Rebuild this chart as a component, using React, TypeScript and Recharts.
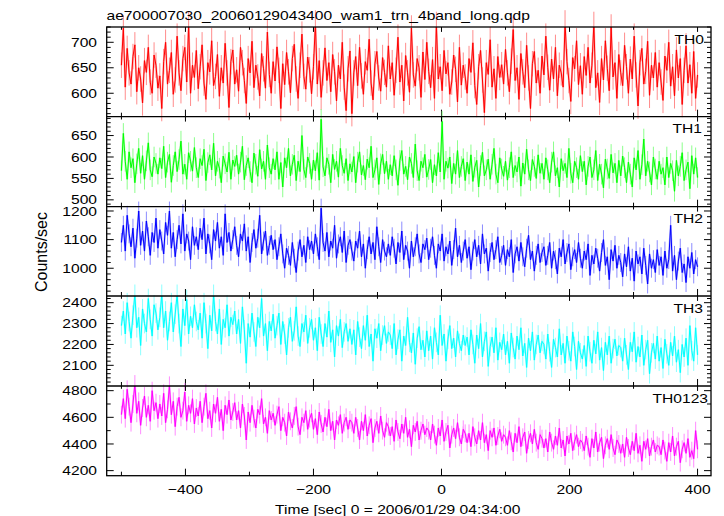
import React from "react";
import { LineChart, Line, XAxis, YAxis, ErrorBar } from "recharts";

const W = 724;
const H = 516;
const PLOT_L = 106.7;
const PLOT_R = 711;
const FONT = "'Liberation Sans', Arial, Helvetica, sans-serif";

// time bins (sec, relative to 2006/01/29 04:34:00)
const times = [
  -500, -497, -494, -491, -488, -485, -482, -479, -476, -473, -470, -467, -464, -461, -458, -455, -452, -449, -446, -443,
  -440, -437, -434, -431, -428, -425, -422, -419, -416, -413, -410, -407, -404, -401, -398, -395, -392, -389, -386, -383,
  -380, -377, -374, -371, -368, -365, -362, -359, -356, -353, -350, -347, -344, -341, -338, -335, -332, -329, -326, -323,
  -320, -317, -314, -311, -308, -305, -302, -299, -296, -293, -290, -287, -284, -281, -278, -275, -272, -269, -266, -263,
  -260, -257, -254, -251, -248, -245, -242, -239, -236, -233, -230, -227, -224, -221, -218, -215, -212, -209, -206, -203,
  -200, -197, -194, -191, -188, -185, -182, -179, -176, -173, -170, -167, -164, -161, -158, -155, -152, -149, -146, -143,
  -140, -137, -134, -131, -128, -125, -122, -119, -116, -113, -110, -107, -104, -101, -98, -95, -92, -89, -86, -83,
  -80, -77, -74, -71, -68, -65, -62, -59, -56, -53, -50, -47, -44, -41, -38, -35, -32, -29, -26, -23,
  -20, -17, -14, -11, -8, -5, -2, 1, 4, 7, 10, 13, 16, 19, 22, 25, 28, 31, 34, 37,
  40, 43, 46, 49, 52, 55, 58, 61, 64, 67, 70, 73, 76, 79, 82, 85, 88, 91, 94, 97,
  100, 103, 106, 109, 112, 115, 118, 121, 124, 127, 130, 133, 136, 139, 142, 145, 148, 151, 154, 157,
  160, 163, 166, 169, 172, 175, 178, 181, 184, 187, 190, 193, 196, 199, 202, 205, 208, 211, 214, 217,
  220, 223, 226, 229, 232, 235, 238, 241, 244, 247, 250, 253, 256, 259, 262, 265, 268, 271, 274, 277,
  280, 283, 286, 289, 292, 295, 298, 301, 304, 307, 310, 313, 316, 319, 322, 325, 328, 331, 334, 337,
  340, 343, 346, 349, 352, 355, 358, 361, 364, 367, 370, 373, 376, 379, 382, 385, 388, 391, 394, 397,
  400,
];

const th0 = [
  655, 728, 612, 688, 640, 618, 672, 695, 603, 650, 628, 581, 664, 641, 690, 622, 600, 675, 655, 610,
  634, 570, 662, 700, 618, 645, 680, 598, 626, 712, 640, 605, 668, 690, 622, 735, 600, 655, 631, 684,
  609, 652, 695, 620, 588, 660, 642, 703, 615, 633, 676, 594, 650, 620, 698, 640, 572, 662, 685, 618,
  646, 604, 690, 660, 625, 580, 668, 640, 702, 611, 655, 632, 595, 678, 648, 610, 720, 637, 600, 662,
  624, 691, 645, 570, 658, 617, 680, 642, 601, 668, 696, 628, 590, 655, 716, 633, 608, 671, 646, 599,
  652, 738, 618, 664, 592, 640, 689, 625, 660, 603, 676, 642, 585, 655, 628, 700, 612, 566, 648, 683,
  560, 640, 672, 615, 690, 634, 598, 662, 645, 706, 620, 587, 658, 682, 630, 604, 670, 641, 612, 693,
  628, 660, 596, 645, 710, 622, 655, 585, 674, 640, 602, 728, 636, 614, 668, 650, 592, 681, 627, 700,
  643, 611, 666, 590, 735, 628, 652, 605, 684, 638, 660, 598, 622, 675, 647, 583, 690, 616, 655, 632,
  600, 668, 641, 699, 615, 578, 652, 684, 626, 562, 660, 637, 705, 612, 648, 590, 672, 631, 656, 618,
  686, 640, 603, 663, 725, 625, 650, 588, 678, 642, 611, 694, 630, 570, 658, 682, 620, 645, 600, 673,
  636, 712, 651, 606, 667, 628, 690, 595, 655, 640, 612, 738, 662, 625, 584, 670, 648, 703, 617, 654,
  598, 672, 635, 690, 620, 655, 735, 611, 640, 582, 668, 626, 703, 649, 605, 730, 632, 660, 590, 676,
  640, 615, 694, 652, 600, 667, 628, 712, 636, 575, 660, 688, 618, 643, 702, 596, 655, 630, 680, 612,
  660, 622, 586, 673, 645, 700, 614, 652, 595, 685, 630, 668, 578, 645, 693, 620, 656, 600, 682, 590,
  636,
];

const th1 = [
  568, 655, 590, 548, 612, 575, 596, 540, 584, 620, 562, 603, 548, 591, 633, 570, 554, 600, 585, 560,
  598, 573, 625, 552, 588, 606, 541, 580, 612, 566, 594, 637, 560, 583, 548, 610, 590, 567, 622, 575,
  552, 596, 580, 618, 545, 587, 605, 570, 632, 556, 590, 574, 540, 602, 584, 565, 611, 548, 593, 578,
  604, 560, 588, 625, 547, 580, 598, 566, 540, 609, 583, 555, 617, 572, 590, 548, 628, 575, 560, 596,
  570, 612, 548, 587, 530, 598, 575, 620, 556, 583, 604, 545, 590, 566, 650, 571, 552, 600, 585, 548,
  593, 568, 610, 546, 688, 577, 556, 598, 583, 540, 606, 571, 590, 553, 620, 580, 562, 596, 545, 584,
  565, 601, 540, 588, 612, 558, 580, 547, 595, 575, 625, 552, 570, 598, 536, 584, 606, 561, 590, 548,
  582, 556, 603, 570, 534, 592, 615, 560, 578, 547, 600, 585, 552, 630, 568, 545, 590, 575, 606, 553,
  571, 594, 540, 582, 556, 610, 565, 683, 548, 590, 574, 600, 538, 585, 560, 615, 552, 578, 596, 545,
  588, 560, 605, 543, 576, 592, 530, 580, 611, 556, 570, 595, 548, 583, 620, 560, 540, 598, 572, 555,
  590, 546, 575, 612, 552, 580, 565, 600, 532, 586, 560, 618, 570, 545, 594, 578, 550, 605, 562, 585,
  548, 598, 570, 540, 588, 612, 556, 575, 530, 596, 568, 585, 552, 620, 562, 540, 590, 575, 548, 603,
  566, 590, 535, 578, 600, 552, 570, 615, 545, 583, 560, 528, 595, 572, 550, 606, 563, 585, 540, 592,
  556, 602, 575, 540, 588, 560, 530, 598, 570, 615, 548, 582, 642, 556, 590, 565, 535, 600, 572, 548,
  590, 560, 575, 535, 600, 552, 585, 568, 520, 592, 556, 578, 610, 545, 570, 588, 526, 603, 560, 598,
  552,
];

const th2 = [
  1090, 1150, 1060, 1185, 1120, 1075, 1140, 1035, 1105, 1200, 1080, 1130, 1060, 1165, 1110, 1045, 1125, 1090, 1175, 1070,
  1135, 1095, 1050, 1160, 1115, 1200, 1070, 1125, 1040, 1100, 1150, 1085, 1190, 1060, 1120, 1095, 1030, 1145, 1080, 1110,
  1065, 1140, 1100, 1175, 1050, 1120, 1085, 1030, 1135, 1095, 1160, 1070, 1110, 1045, 1190, 1090, 1125, 1060, 1100, 1145,
  1080, 1040, 1120, 1095, 1155, 1060, 1110, 1020, 1090, 1135, 1070, 1105, 1185, 1050, 1095, 1130, 1045, 1080, 1115, 1065,
  1100, 1030, 1075, 1120, 1050, 1000, 1070, 1045, 1010, 1090, 1035, 985, 1060, 1100, 1040, 1080, 1020, 1110, 1065, 1095,
  1050, 1120, 1075, 1030, 1210, 1090, 1060, 1125, 1040, 1095, 1070, 1150, 1035, 1085, 1110, 1055, 1130, 1020, 1080, 1100,
  1060, 1025, 1095, 1070, 1130, 1040, 1085, 1000, 1065, 1110, 1050, 1090, 1030, 1145, 1075, 1020, 1100, 1060, 1040, 1085,
  1045, 1110, 1070, 1015, 1090, 1055, 1130, 1030, 1080, 1060, 1000, 1095, 1040, 1075, 1120, 1050, 1020, 1085, 1065, 1105,
  1030, 1070, 1110, 1045, 1000, 1085, 1060, 1120, 1025, 1075, 1050, 1095, 1010, 1065, 1140, 1040, 1080, 1020, 1060, 1100,
  1035, 1075, 995, 1060, 1100, 1040, 1080, 1015, 1120, 1050, 1070, 990, 1055, 1090, 1030, 1065, 1110, 1020, 1045, 1080,
  1010, 1065, 1040, 1100, 985, 1050, 1075, 1025, 1090, 1040, 1005, 1070, 1115, 1030, 1060, 990, 1045, 1085, 1020, 1055,
  1075, 1010, 1045, 1090, 1000, 1060, 1030, 980, 1070, 1040, 1100, 1015, 1055, 1085, 995, 1040, 1065, 1020, 1090, 1035,
  1000, 1060, 1030, 1085, 975, 1045, 1015, 1070, 1035, 990, 1055, 1100, 1010, 1040, 960, 1065, 1025, 1080, 1000, 1045,
  1020, 970, 1050, 1005, 1075, 990, 1035, 955, 1060, 1015, 1040, 980, 1070, 1010, 945, 1050, 1000, 1030, 985, 1065,
  1010, 1040, 975, 1060, 1000, 1030, 1150, 990, 1045, 960, 1025, 1070, 985, 1015, 950, 1040, 1000, 1055, 980, 1030,
  1005,
];

const th3 = [
  2290, 2360, 2250, 2400, 2310, 2230, 2340, 2440, 2280, 2330, 2195, 2370, 2300, 2260, 2420, 2320, 2240, 2390, 2350, 2270,
  2330, 2440, 2280, 2360, 2220, 2310, 2400, 2260, 2345, 2440, 2300, 2190, 2370, 2290, 2415, 2250, 2335, 2280, 2390, 2310,
  2270, 2350, 2230, 2400, 2300, 2180, 2340, 2265, 2440, 2310, 2250, 2370, 2200, 2320, 2280, 2390, 2240, 2330, 2295, 2360,
  2250, 2320, 2205, 2380, 2270, 2110, 2300, 2235, 2350, 2260, 2190, 2330, 2280, 2420, 2240, 2300, 2170, 2310, 2265, 2345,
  2230, 2290, 2350, 2200, 2310, 2250, 2150, 2280, 2330, 2215, 2265, 2380, 2240, 2190, 2300, 2260, 2340, 2205, 2280, 2320,
  2220, 2280, 2170, 2330, 2250, 2190, 2300, 2235, 2360, 2210, 2270, 2140, 2290, 2240, 2320, 2185, 2260, 2300, 2215, 2275,
  2200, 2270, 2150, 2310, 2235, 2180, 2290, 2220, 2340, 2190, 2250, 2120, 2275, 2230, 2300, 2170, 2245, 2290, 2205, 2260,
  2245, 2180, 2300, 2150, 2225, 2270, 2120, 2240, 2195, 2330, 2210, 2160, 2255, 2105, 2230, 2285, 2175, 2220, 2140, 2265,
  2170, 2240, 2130, 2280, 2210, 2150, 2340, 2195, 2250, 2120, 2225, 2290, 2180, 2230, 2140, 2265, 2205, 2170, 2245, 2195,
  2235, 2150, 2270, 2200, 2110, 2245, 2180, 2300, 2140, 2215, 2260, 2095, 2190, 2235, 2160, 2280, 2125, 2210, 2175, 2250,
  2150, 2215, 2110, 2255, 2185, 2130, 2240, 2175, 2280, 2145, 2205, 2090, 2230, 2170, 2260, 2125, 2200, 2245, 2160, 2215,
  2200, 2130, 2250, 2165, 2090, 2225, 2185, 2140, 2275, 2150, 2205, 2110, 2240, 2170, 2120, 2260, 2190, 2080, 2215, 2160,
  2130, 2195, 2095, 2240, 2165, 2110, 2220, 2155, 2260, 2125, 2185, 2075, 2210, 2150, 2240, 2110, 2180, 2225, 2145, 2195,
  2185, 2120, 2230, 2150, 2080, 2210, 2165, 2260, 2115, 2190, 2140, 2245, 2100, 2175, 2220, 2060, 2160, 2205, 2130, 2240,
  2120, 2185, 2085, 2225, 2155, 2100, 2210, 2145, 2240, 2115, 2175, 2065, 2200, 2140, 2230, 2100, 2290, 2170, 2120, 2280,
  2150,
];

const th0123 = [
  4620, 4740, 4590, 4810, 4680, 4560, 4700, 4850, 4630, 4720, 4540, 4670, 4760, 4600, 4690, 4570, 4800, 4650, 4710, 4590,
  4700, 4610, 4780, 4560, 4660, 4840, 4620, 4720, 4530, 4680, 4750, 4600, 4650, 4790, 4570, 4690, 4630, 4740, 4550, 4670,
  4610, 4720, 4560, 4680, 4780, 4590, 4650, 4520, 4700, 4630, 4750, 4570, 4660, 4500, 4690, 4620, 4730, 4580, 4640, 4710,
  4580, 4650, 4520, 4700, 4610, 4430, 4640, 4560, 4690, 4590, 4520, 4660, 4620, 4740, 4550, 4600, 4480, 4650, 4580, 4630,
  4540, 4620, 4680, 4500, 4600, 4560, 4460, 4640, 4570, 4520, 4610, 4680, 4530, 4470, 4600, 4560, 4650, 4510, 4590, 4630,
  4510, 4590, 4470, 4640, 4550, 4490, 4600, 4530, 4660, 4500, 4570, 4430, 4580, 4540, 4620, 4480, 4560, 4600, 4510, 4580,
  4560, 4480, 4600, 4520, 4430, 4570, 4500, 4620, 4460, 4540, 4590, 4410, 4520, 4570, 4480, 4610, 4500, 4450, 4560, 4530,
  4460, 4530, 4420, 4580, 4490, 4440, 4550, 4480, 4600, 4450, 4510, 4380, 4540, 4490, 4570, 4430, 4500, 4550, 4470, 4520,
  4500, 4430, 4550, 4470, 4390, 4520, 4460, 4580, 4420, 4490, 4540, 4370, 4470, 4520, 4440, 4560, 4450, 4400, 4510, 4480,
  4410, 4480, 4380, 4530, 4450, 4400, 4500, 4430, 4560, 4410, 4470, 4350, 4500, 4450, 4520, 4390, 4460, 4510, 4420, 4470,
  4450, 4390, 4500, 4420, 4340, 4480, 4410, 4530, 4380, 4450, 4490, 4330, 4430, 4480, 4400, 4510, 4410, 4360, 4470, 4440,
  4370, 4440, 4340, 4490, 4410, 4360, 4460, 4390, 4520, 4370, 4430, 4310, 4460, 4400, 4480, 4350, 4420, 4470, 4380, 4430,
  4410, 4350, 4460, 4380, 4300, 4440, 4370, 4490, 4340, 4410, 4450, 4290, 4390, 4440, 4360, 4470, 4370, 4320, 4430, 4400,
  4330, 4400, 4300, 4450, 4370, 4320, 4420, 4350, 4480, 4330, 4390, 4270, 4420, 4360, 4440, 4310, 4380, 4430, 4340, 4390,
  4380, 4320, 4430, 4350, 4270, 4410, 4340, 4460, 4310, 4380, 4420, 4260, 4360, 4410, 4330, 4440, 4300, 4350, 4290, 4500,
  4360,
];

// typical 1-sigma error bar half-length per band (counts/sec)
const th0Err = 25;
const th1Err = 24;
const th2Err = 33;
const th3Err = 47;
const th0123Err = 67;

// tick labels
const xTicks = [-500, -400, -300, -200, -100, 0, 100, 200, 300, 400];
const xLabelTicks = [-400, -200, 0, 200, 400];
const th0Labels = [600, 650, 700];
const th1Labels = [500, 550, 600, 650];
const th2Labels = [1000, 1100, 1200];
const th3Labels = [2100, 2200, 2300, 2400];
const th0123Labels = [4200, 4400, 4600, 4800];

const xDomain: [number, number] = [-523, 421];

function range(a: number, b: number, step: number) {
  const out: number[] = [];
  for (let v = Math.ceil(a / step) * step; v <= b + 1e-9; v += step) out.push(v);
  return out;
}

const fmt = (v: number) => (v < 0 ? `\u2212${-v}` : `${v}`);

function SText(props: { x: number; y: number; anchor?: string; size?: number; sx?: number; children: any }) {
  const { x, y, anchor = "start", size = 12.8, sx = 1.22, children } = props;
  return (
    <text
      transform={`translate(${x},${y}) scale(${sx},1)`}
      textAnchor={anchor as any}
      fontFamily={FONT}
      fontSize={size}
      fill="#000"
    >
      {children}
    </text>
  );
}

type Panel = {
  name: string;
  values: number[];
  err: number;
  color: string;
  light: string;
  domain: [number, number];
  top: number;
  bottom: number;
  labels: number[];
  minor: number;
  nameX: number;
};

const panels: Panel[] = [
  { name: "TH0", values: th0, err: th0Err, color: "#ff0000", light: "#ff8c8c", domain: [554, 730], top: 27, bottom: 116.7, labels: th0Labels, minor: 10, nameX: 704 },
  { name: "TH1", values: th1, err: th1Err, color: "#00ff00", light: "#8cff8c", domain: [484, 694], top: 116.7, bottom: 206.7, labels: th1Labels, minor: 10, nameX: 702 },
  { name: "TH2", values: th2, err: th2Err, color: "#0000ff", light: "#8c8cff", domain: [903, 1215], top: 206.7, bottom: 296, labels: th2Labels, minor: 20, nameX: 703 },
  { name: "TH3", values: th3, err: th3Err, color: "#00ffff", light: "#8cffff", domain: [2001, 2432], top: 296, bottom: 386, labels: th3Labels, minor: 20, nameX: 703 },
  { name: "TH0123", values: th0123, err: th0123Err, color: "#ff00ff", light: "#ff8cff", domain: [4162, 4835], top: 386, bottom: 475.7, labels: th0123Labels, minor: 100, nameX: 708 },
];

const makeYTick = (labels: number[]) => (props: any) => {
  const { y, payload } = props;
  const v = payload.value;
  const major = labels.includes(v);
  const len = major ? 7 : 4;
  return (
    <g>
      <line x1={PLOT_L} x2={PLOT_L + len} y1={y} y2={y} stroke="#000" strokeWidth={1} />
      <line x1={PLOT_R - len} x2={PLOT_R} y1={y} y2={y} stroke="#000" strokeWidth={1} />
      {major && (
        <SText x={97} y={y + 4.6} anchor="end">
          {v}
        </SText>
      )}
    </g>
  );
};

const makeXTick = (top: number, bottom: number, showLabels: boolean) => (props: any) => {
  const { x, payload } = props;
  const v = payload.value;
  const major = xLabelTicks.includes(v);
  const len = major ? 7 : 4;
  return (
    <g>
      <line x1={x} x2={x} y1={bottom} y2={bottom - len} stroke="#000" strokeWidth={1} />
      <line x1={x} x2={x} y1={top} y2={top + len * 0.7} stroke="#000" strokeWidth={1} />
      {showLabels && major && (
        <SText x={x} y={494} anchor="middle">
          {fmt(v)}
        </SText>
      )}
    </g>
  );
};

function PanelChart({ p, last }: { p: Panel; last: boolean }) {
  const rows = times.map((t, i) => ({ t, v: p.values[i], e: p.err }));
  const yTicks = range(p.domain[0], p.domain[1], p.minor);
  return (
    <div style={{ position: "absolute", left: 0, top: 0, width: W, height: H }}>
      <LineChart
        width={W}
        height={H}
        data={rows}
        margin={{ top: p.top, bottom: H - p.bottom - 1, left: PLOT_L - 1, right: W - PLOT_R }}
      >
        <XAxis
          dataKey="t"
          type="number"
          domain={xDomain}
          allowDataOverflow
          ticks={xTicks}
          interval={0}
          height={1}
          axisLine={false}
          tickLine={false}
          tick={makeXTick(p.top, p.bottom, last)}
        />
        <YAxis
          type="number"
          domain={p.domain}
          allowDataOverflow
          ticks={yTicks}
          interval={0}
          width={1}
          axisLine={false}
          tickLine={false}
          tick={makeYTick(p.labels)}
        />
        <Line
          name={p.name + "-err"}
          dataKey="v"
          type="linear"
          stroke={p.light}
          strokeOpacity={0.6}
          strokeWidth={2}
          dot={false}
          activeDot={false}
          isAnimationActive={false}
        >
          <ErrorBar dataKey="e" direction="y" width={0} stroke={p.light} strokeWidth={1} isAnimationActive={false} />
        </Line>
        <Line
          name={p.name}
          dataKey="v"
          type="linear"
          stroke={p.color}
          strokeWidth={1}
          dot={false}
          activeDot={false}
          isAnimationActive={false}
        />
      </LineChart>
    </div>
  );
}

export default function App() {
  return (
    <div style={{ position: "absolute", left: 0, top: 0, width: W, height: H, background: "#fff", overflow: "hidden" }}>
      {panels.map((p, i) => (
        <PanelChart key={p.name} p={p} last={i === panels.length - 1} />
      ))}
      <svg width={W} height={H} style={{ position: "absolute", left: 0, top: 0, pointerEvents: "none" }}>
        <rect
          x={PLOT_L}
          y={panels[0].top}
          width={PLOT_R - PLOT_L}
          height={panels[panels.length - 1].bottom - panels[0].top}
          fill="none"
          stroke="#000"
          strokeWidth={1.3}
        />
        {panels.slice(1).map((p) => (
          <line key={p.name} x1={PLOT_L} x2={PLOT_R} y1={p.top} y2={p.top} stroke="#000" strokeWidth={1.3} />
        ))}
        {panels.map((p) => (
          <SText key={p.name} x={p.nameX} y={p.top + 16.5} anchor="end">
            {p.name}
          </SText>
        ))}
        <SText x={106.5} y={19.5}>ae700007030_20060129043400_wam1_trn_4band_long.qdp</SText>
        <SText x={275} y={514}>Time [sec] 0 = 2006/01/29 04:34:00</SText>
        <text
          transform="translate(41,252) rotate(-90) scale(1,1.05)"
          textAnchor="middle"
          dy="0.35em"
          fontFamily={FONT}
          fontSize={16}
          fill="#000"
        >
          Counts/sec
        </text>
      </svg>
    </div>
  );
}
